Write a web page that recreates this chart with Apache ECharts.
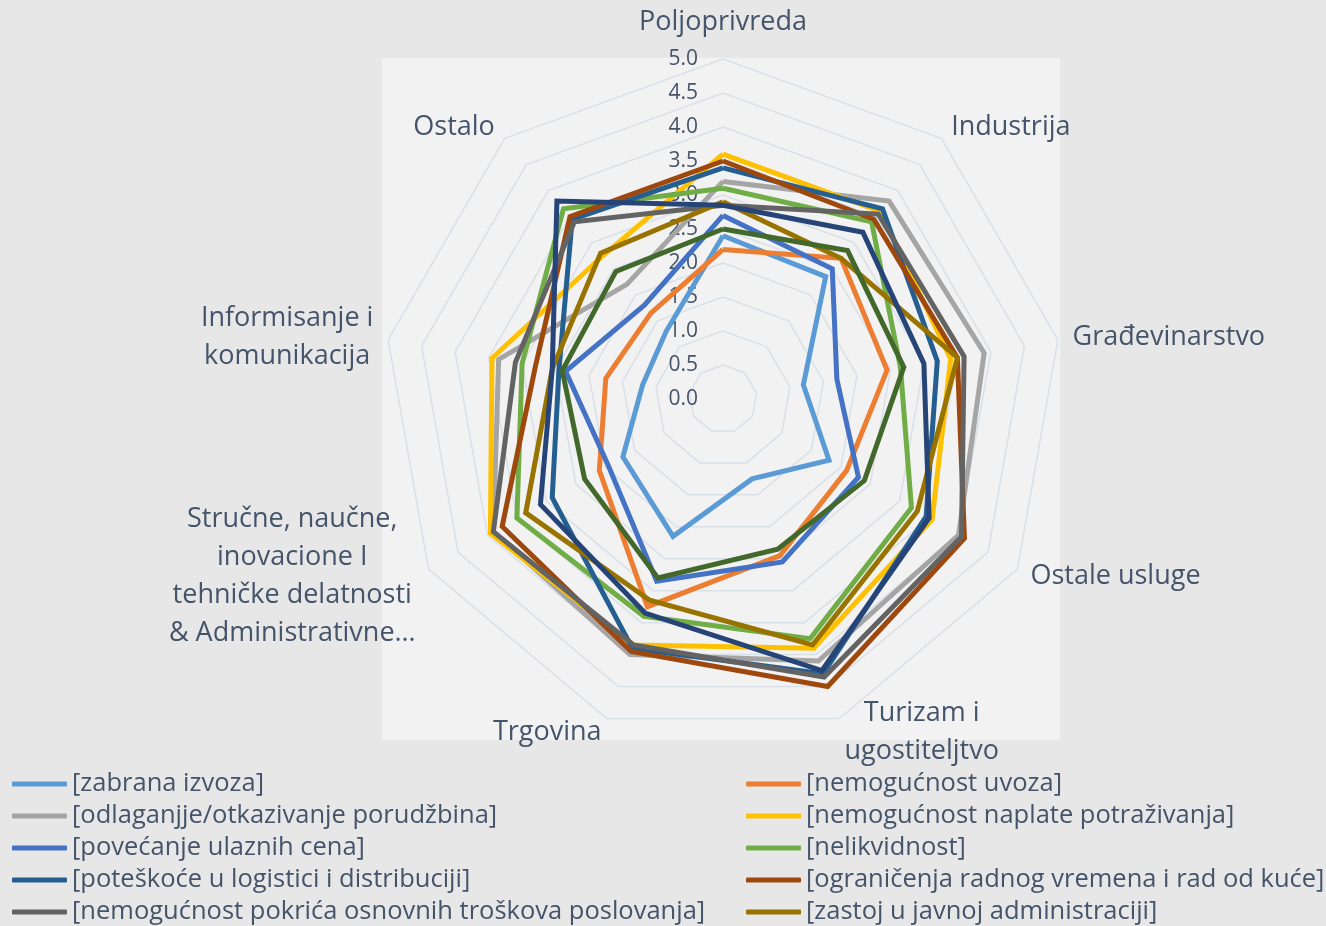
<!DOCTYPE html>
<html>
<head>
<meta charset="utf-8">
<script src="https://cdn.jsdelivr.net/npm/echarts@6/dist/echarts.min.js"></script>
<style>
html,body{margin:0;padding:0;background:#e7e7e7;}
#chart{width:1326px;height:926px;}
</style>
</head>
<body>
<div id="chart"></div>
<script>
// ---------- data ----------
const categories = [
  'Poljoprivreda',
  'Industrija',
  'Građevinarstvo',
  'Ostale usluge',
  'Turizam i ugostiteljtvo',
  'Trgovina',
  'Stručne, naučne, inovacione I tehničke delatnosti & Administrativne…',
  'Informisanje i komunikacija',
  'Ostalo'
];
const categoryLabels = [
  'Poljoprivreda',
  'Industrija',
  'Građevinarstvo',
  'Ostale usluge',
  'Turizam i\nugostiteljtvo',
  'Trgovina',
  'Stručne, naučne,\ninovacione I\ntehničke delatnosti\n& Administrativne…',
  'Informisanje i\nkomunikacija',
  'Ostalo'
];
const tickLabels = ['0.0','0.5','1.0','1.5','2.0','2.5','3.0','3.5','4.0','4.5','5.0'];

const seriesNames = [
  '[zabrana izvoza]',
  '[nemogućnost uvoza]',
  '[odlaganjje/otkazivanje porudžbina]',
  '[nemogućnost naplate potraživanja]',
  '[povećanje ulaznih cena]',
  '[nelikvidnost]',
  '[poteškoće u logistici i distribuciji]',
  '[ograničenja radnog vremena i rad od kuće]',
  '[nemogućnost pokrića osnovnih troškova poslovanja]',
  '[zastoj u javnoj administraciji]',
  '[serija 11]',
  '[serija 12]'
];
const seriesColors = ['#5B9BD5','#ED7D31','#A5A5A5','#FFC000','#4472C4','#70AD47',
                      '#255E91','#9E480E','#636363','#997300','#264478','#43682B'];

// values per category (order of `categories`)
const zabranaIzvoza       = [2.40, 2.35, 1.20, 1.80, 1.25, 2.15, 1.70, 1.20, 1.30];
const nemogucnostUvoza    = [2.20, 2.70, 2.45, 2.10, 2.45, 3.25, 2.10, 1.75, 1.65];
const odlaganjePorudzbina = [3.20, 3.80, 3.90, 4.00, 4.10, 4.00, 3.90, 3.35, 2.20];
const nemogucnostNaplate  = [3.60, 3.60, 3.40, 3.55, 3.90, 3.85, 3.95, 3.45, 2.75];
const povecanjeCena       = [2.70, 2.50, 1.70, 2.30, 2.55, 2.85, 1.95, 2.35, 1.80];
const nelikvidnost        = [3.10, 3.40, 2.65, 3.20, 3.75, 3.40, 3.50, 3.00, 3.65];
const logistika           = [3.40, 3.65, 3.20, 3.45, 4.30, 3.90, 2.90, 2.45, 3.45];
const ogranicenjaRada     = [3.50, 3.45, 3.50, 4.10, 4.50, 3.95, 3.75, 2.80, 3.50];
const pokriceTroskova     = [2.85, 3.55, 3.60, 4.05, 4.35, 3.85, 3.90, 3.10, 3.40];
const javnaAdministracija = [2.90, 2.70, 3.50, 3.30, 3.85, 3.15, 3.35, 2.55, 2.80];
const serija11            = [2.85, 3.20, 3.00, 3.50, 4.25, 3.35, 3.10, 2.55, 3.80];
const serija12            = [2.50, 2.85, 2.70, 2.40, 2.35, 2.80, 2.35, 2.40, 2.45];

const seriesValues = [zabranaIzvoza, nemogucnostUvoza, odlaganjePorudzbina, nemogucnostNaplate,
  povecanjeCena, nelikvidnost, logistika, ogranicenjaRada, pokriceTroskova,
  javnaAdministracija, serija11, serija12];

// ---------- layout ----------
const CX = 723, CY = 399, R = 340, MAXV = 5;
const FONT = '"Open Sans", "Noto Sans", sans-serif';
const TEXT = '#44546a';
const NAME_SIZE = 27, TICK_SIZE = 21, LEGEND_SIZE = 25.5;

// ECharts lays indicators out counter-clockwise; reorder so they read clockwise
const order = categories.map((c, i) => (i === 0 ? 0 : categories.length - i));

const ctx = document.createElement('canvas').getContext('2d');
ctx.font = NAME_SIZE + 'px "Open Sans"';
function blockWidth(s) {
  return Math.max.apply(null, s.split('\n').map(l => ctx.measureText(l).width));
}

const graphics = [];
// plot area background
graphics.push({
  type: 'rect', z: -10, silent: true,
  shape: { x: 382, y: CY - R - 1, width: 678, height: 2 * R + 2 },
  style: { fill: '#f2f2f2' }
});
// tick labels along the vertical axis
tickLabels.forEach((t) => {
  const v = parseFloat(t);
  graphics.push({
    type: 'text', z: 1, silent: true,
    x: CX - 25, y: CY - v / MAXV * R,
    style: { text: t, fill: TEXT, fontSize: TICK_SIZE, fontFamily: FONT,
             align: 'right', verticalAlign: 'middle' }
  });
});
// category names
categoryLabels.forEach((lbl, i) => {
  const a = i * 2 * Math.PI / categories.length;
  const dx = Math.sin(a), dy = -Math.cos(a);
  let x, y;
  if (Math.abs(dx) < 0.01 && dy < 0) {
    x = CX; y = CY - R - 37;
  } else {
    const d = R + 15;
    const ax = CX + dx * d, ay = CY + dy * d;
    const w = blockWidth(lbl);
    x = Math.abs(dx) < 0.01 ? ax : (dx > 0 ? ax + w / 2 : ax - w / 2);
    y = ay;
  }
  graphics.push({
    type: 'text', z: 10, silent: true, x: x, y: y,
    style: { text: lbl, fill: TEXT, fontSize: NAME_SIZE, fontFamily: FONT,
             align: 'center', verticalAlign: 'middle', lineHeight: 38 }
  });
});

const series = seriesValues.map((vals, k) => ({
  type: 'radar',
  name: seriesNames[k],
  symbol: 'none',
  silent: true,
  emphasis: { disabled: true },
  itemStyle: { color: seriesColors[k] },
  lineStyle: { color: seriesColors[k], width: 5, join: 'miter', cap: 'butt' },
  data: [{ name: seriesNames[k], value: order.map(j => vals[j]) }]
}));

const legendCommon = {
  orient: 'vertical', itemWidth: 55, itemHeight: 5, itemGap: 4, padding: 0,
  icon: 'roundRect', selectedMode: false,
  textStyle: { fontSize: LEGEND_SIZE, color: TEXT, fontFamily: FONT, lineHeight: 28 }
};

const chart = echarts.init(document.getElementById('chart'), null, { renderer: 'canvas' });
chart.setOption({
  animation: false,
  backgroundColor: '#e7e7e7',
  textStyle: { fontFamily: FONT },
  graphic: graphics,
  legend: [
    Object.assign({}, legendCommon, { left: 12, top: 770,
      data: [0, 2, 4, 6, 8].map(i => seriesNames[i]) }),
    Object.assign({}, legendCommon, { left: 746, top: 770,
      data: [1, 3, 5, 7, 9].map(i => seriesNames[i]) })
  ],
  radar: {
    center: [CX, CY],
    radius: R,
    startAngle: 90,
    shape: 'polygon',
    splitNumber: 10,
    indicator: order.map(j => ({ name: categories[j], min: 0, max: MAXV })),
    axisName: { show: false },
    axisLine: { show: false },
    axisTick: { show: false },
    axisLabel: { show: false },
    splitArea: { show: false },
    splitLine: { lineStyle: { color: '#d9e0e8', width: 1.5 } }
  },
  series: series
});
</script>
</body>
</html>
